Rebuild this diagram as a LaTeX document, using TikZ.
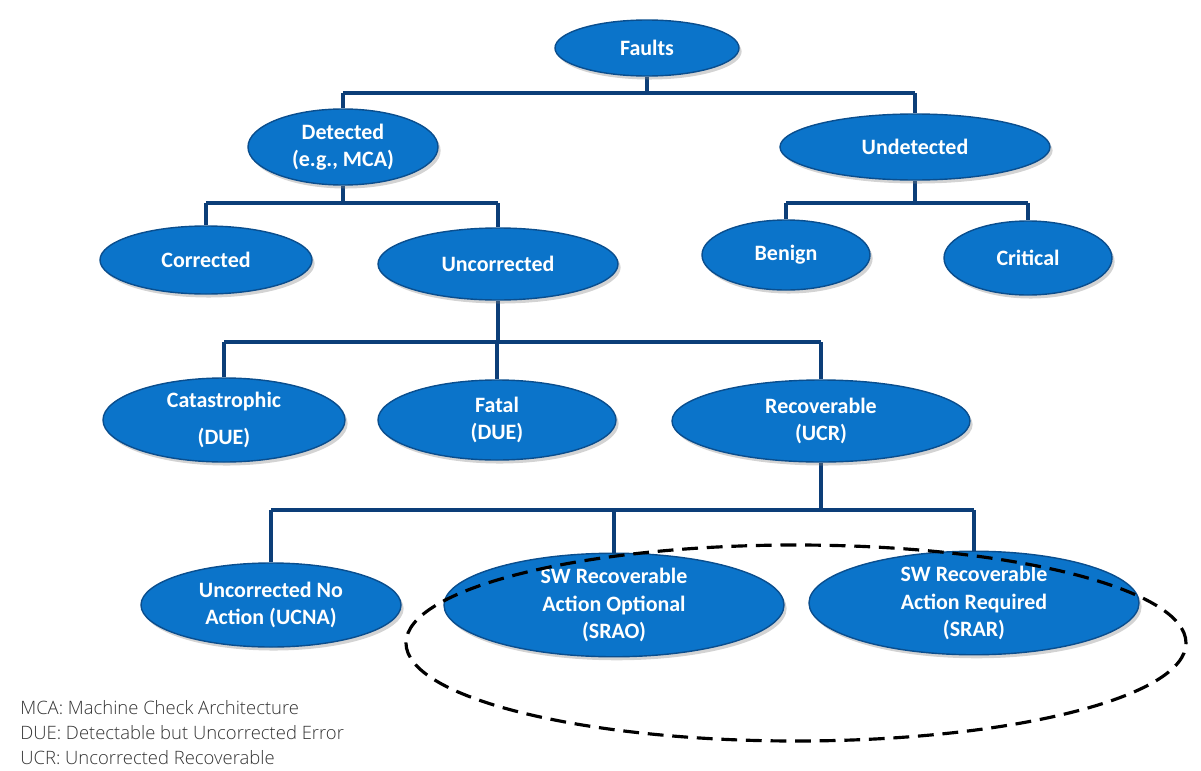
\documentclass[tikz,border=0pt]{standalone}
\usepackage{fontspec}
\setmainfont{Carlito}
\newfontfamily\legendfont{Open Sans Light}
\usetikzlibrary{shapes.geometric,backgrounds,shadows}
\definecolor{nodeblue}{HTML}{0B74CA}
\definecolor{nodeedge}{HTML}{0A4E8E}
\definecolor{linecol}{HTML}{0C3E78}
\begin{document}
\begin{tikzpicture}[x=0.02cm,y=-0.02cm,
  el/.style={ellipse,fill=nodeblue,draw=nodeedge,line width=0.8pt,text=white,
    font=\bfseries\fontsize{12.5}{15.5}\selectfont,align=center,inner sep=0pt,
    drop shadow={shadow xshift=1.5pt,shadow yshift=-2pt,opacity=0.35}},
  conn/.style={draw=linecol,line width=2.4pt},
  leg/.style={anchor=west,inner sep=0pt,text=black!80,font=\legendfont\fontsize{10.5}{12}\selectfont}]
\useasboundingbox (0,0) rectangle (1201,771);
\node[el,minimum width=184*0.02cm,minimum height=56*0.02cm] (faults) at (647,48) {Faults};
\node[el,minimum width=190*0.02cm,minimum height=76*0.02cm] (det) at (343,147) {Detected\\(e.g., MCA)};
\node[el,minimum width=270*0.02cm,minimum height=66*0.02cm] (undet) at (915,147) {Undetected};
\node[el,minimum width=212*0.02cm,minimum height=68*0.02cm] (corr) at (206,260) {Corrected};
\node[el,minimum width=240*0.02cm,minimum height=72*0.02cm] (uncorr) at (498,264) {Uncorrected};
\node[el,minimum width=168*0.02cm,minimum height=70*0.02cm] (benign) at (786,255) {Benign};
\node[el,minimum width=168*0.02cm,minimum height=74*0.02cm] (crit) at (1028,258) {Critical};
\node[el,minimum width=242*0.02cm,minimum height=84*0.02cm,font=\bfseries\fontsize{12.5}{21}\selectfont] (cat) at (224,420) {Catastrophic\\(DUE)};
\node[el,minimum width=238*0.02cm,minimum height=80*0.02cm] (fatal) at (497,420) {Fatal\\(DUE)};
\node[el,minimum width=298*0.02cm,minimum height=82*0.02cm] (rec) at (821,421) {Recoverable\\(UCR)};
\node[el,minimum width=260*0.02cm,minimum height=84*0.02cm] (ucna) at (271,605) {Uncorrected No\\Action (UCNA)};
\node[el,minimum width=340*0.02cm,minimum height=90*0.02cm] (srao) at (614,605) {SW Recoverable\\Action Optional\\(SRAO)};
\node[el,minimum width=330*0.02cm,minimum height=90*0.02cm] (srar) at (974,603) {SW Recoverable\\Action Required\\(SRAR)};
\node[ellipse,draw=black,dashed,dash pattern=on 9pt off 5pt,line width=1.8pt,minimum width=780*0.02cm,minimum height=196*0.02cm] (group) at (796,643) {};
\begin{scope}[on background layer]
\coordinate (j1) at (647,93);
\coordinate (j2) at (343,203);
\coordinate (j3) at (915,203);
\coordinate (j4) at (498,342);
\coordinate (j5) at (821,510);
\path[conn] (faults) -- (j1) (det |- j1) -- (undet |- j1) (det |- j1) -- (det) (undet |- j1) -- (undet);
\path[conn] (det) -- (j2) (corr |- j2) -- (uncorr |- j2) (corr |- j2) -- (corr) (uncorr |- j2) -- (uncorr);
\path[conn] (undet) -- (j3) (benign |- j3) -- (crit |- j3) (benign |- j3) -- (benign) (crit |- j3) -- (crit);
\path[conn] (uncorr) -- (j4) (cat |- j4) -- (rec |- j4) (cat |- j4) -- (cat) (fatal |- j4) -- (fatal) (rec |- j4) -- (rec);
\path[conn] (rec) -- (j5) (ucna |- j5) -- (srar |- j5) (ucna |- j5) -- (ucna) (srao |- j5) -- (srao) (srar |- j5) -- (srar);
\end{scope}
\node[leg] (l1) at (20,708) {MCA: Machine Check Architecture};
\node[leg] (l2) at (20,733) {DUE: Detectable but Uncorrected Error};
\node[leg] (l3) at (20,758) {UCR: Uncorrected Recoverable};
\end{tikzpicture}
\end{document}
